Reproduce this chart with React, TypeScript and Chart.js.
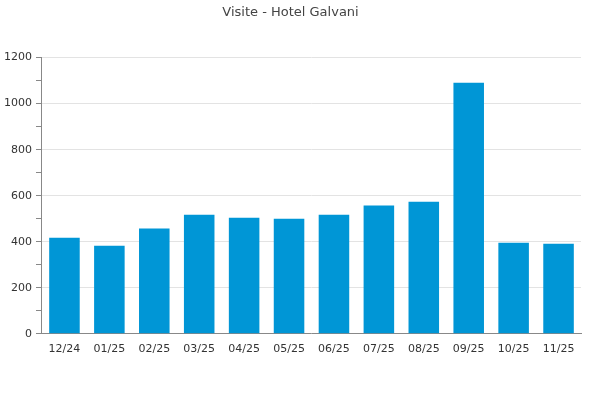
import React, { useEffect, useRef } from "react";
import { Chart, registerables } from "chart.js";

Chart.register(...registerables);

const categories = ["12/24", "01/25", "02/25", "03/25", "04/25", "05/25", "06/25", "07/25", "08/25", "09/25", "10/25", "11/25"];
const visits = [417, 383, 457, 517, 504, 500, 517, 557, 574, 1091, 396, 391];
const titleText = "Visite - Hotel Galvani";
const yMax = 1200;
const yMajorStep = 200;
const yMinorStep = 100;

export default function App() {
  const ref = useRef<HTMLCanvasElement>(null);
  useEffect(() => {
    document.body.style.margin = "0";
    const ctx = ref.current!;
    const chart = new Chart(ctx, {
      type: "bar",
      data: {
        labels: categories,
        datasets: [
          {
            label: "Visite",
            data: visits,
            backgroundColor: "#0096d6",
            borderWidth: 0,
            barPercentage: 0.68,
            categoryPercentage: 1,
          },
        ],
      },
      options: {
        animation: false,
        responsive: false,
        maintainAspectRatio: false,
        layout: { padding: { left: 0, right: 19, top: 5, bottom: 35 } },
        plugins: {
          legend: { display: false },
          tooltip: { enabled: false },
          title: {
            display: true,
            text: titleText,
            color: "#444",
            font: { family: "DejaVu Sans", size: 13, weight: "normal" },
            padding: { top: 0, bottom: 37 },
          },
        },
        scales: {
          x: {
            grid: { display: false, drawTicks: false },
            border: { display: true, color: "#888", width: 1 },
            ticks: {
              color: "#333",
              font: { family: "DejaVu Sans", size: 11 },
              padding: 9,
              maxRotation: 0,
            },
          },
          y: {
            min: 0,
            max: yMax,
            grid: {
              color: (c: any) => (c.tick && c.tick.value % yMajorStep === 0 ? "#e3e3e3" : "rgba(0,0,0,0)"),
              tickColor: "#888",
              tickLength: 6,
            },
            border: { display: true, color: "#888", width: 1 },
            ticks: {
              stepSize: yMinorStep,
              autoSkip: false,
              color: "#333",
              font: { family: "DejaVu Sans", size: 11 },
              padding: 4,
              callback: (v: any) => (Number(v) % yMajorStep === 0 ? String(v) : ""),
            },
          },
        },
      },
    });
    return () => chart.destroy();
  }, []);
  return (
    <div style={{ width: 600, height: 400 }}>
      <canvas ref={ref} width={600} height={400} />
    </div>
  );
}
